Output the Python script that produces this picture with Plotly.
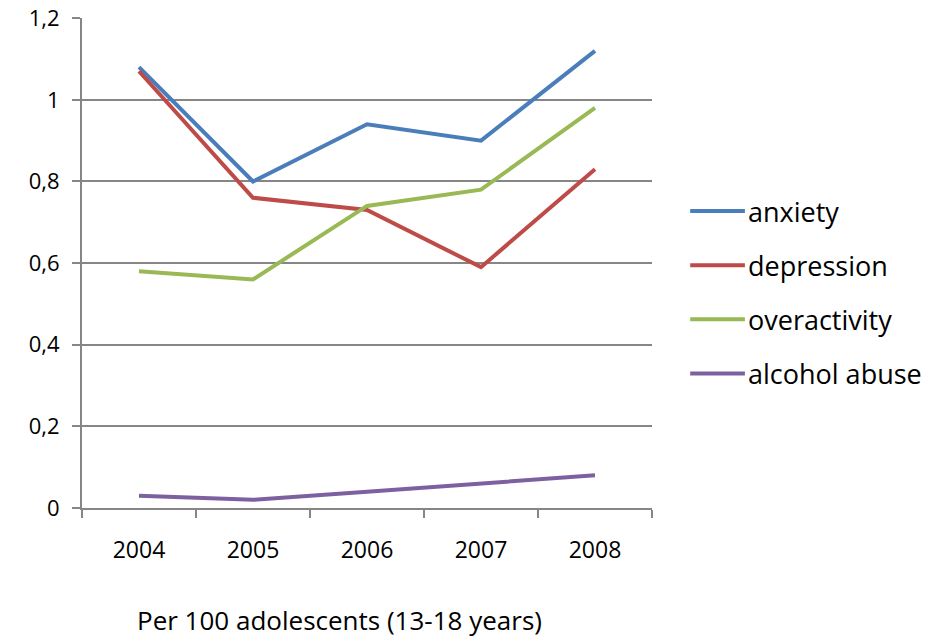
import plotly.graph_objects as go

years = ["2004", "2005", "2006", "2007", "2008"]
series_names = ["anxiety", "depression", "overactivity", "alcohol abuse"]
anxiety = [1.08, 0.80, 0.94, 0.90, 1.12]
depression = [1.07, 0.76, 0.73, 0.59, 0.83]
overactivity = [0.58, 0.56, 0.74, 0.78, 0.98]
alcohol_abuse = [0.03, 0.02, 0.04, 0.06, 0.08]
y_ticks = [0, 0.2, 0.4, 0.6, 0.8, 1.0, 1.2]
x_title = "Per 100 adolescents (13-18 years)"

colors = ["#4A7EBB", "#BE4B48", "#98B954", "#7D60A0"]
values = [anxiety, depression, overactivity, alcohol_abuse]
FONT = "Open Sans, sans-serif"
GRID = "#868686"

fig = go.Figure()
for name, vals, col in zip(series_names, values, colors):
    fig.add_trace(go.Scatter(
        x=years, y=vals, name=name, mode="lines",
        line=dict(color=col, width=4), showlegend=False,
    ))

# legend drawn as line swatches plus labels
shapes = []
annotations = []
leg_top, leg_step = 0.606, 0.1105
for i, (name, col) in enumerate(zip(series_names, colors)):
    yy = leg_top - i * leg_step
    shapes.append(dict(type="line", xref="paper", yref="paper",
                       x0=1.067, x1=1.163, y0=yy, y1=yy,
                       line=dict(color=col, width=4)))
    annotations.append(dict(xref="paper", yref="paper", x=1.165, y=yy,
                            text=name, showarrow=False, xanchor="left",
                            yanchor="middle",
                            font=dict(family=FONT, size=27, color="black")))

annotations.append(dict(xref="paper", yref="paper", x=0.4526, y=-0.2694,
                        text=x_title, showarrow=False, xanchor="center",
                        yanchor="bottom",
                        font=dict(family=FONT, size=26, color="black")))

fig.update_layout(
    width=936, height=640,
    margin=dict(l=82, r=284, t=18, b=132, autoexpand=False),
    paper_bgcolor="white", plot_bgcolor="white",
    separators=", ",
    shapes=shapes, annotations=annotations,
    font=dict(family=FONT, color="black"),
)
fig.update_xaxes(
    type="category", tickson="boundaries", ticks="outside", ticklen=8,
    tickwidth=2, tickcolor=GRID, showgrid=False, showline=True,
    linecolor=GRID, linewidth=2, tickfont=dict(size=23, family=FONT),
    ticklabelstandoff=20, range=[-0.5, 4.5], automargin=False,
)
fig.update_yaxes(
    range=[0, 1.2004], tickvals=y_ticks, tickformat=".1~f",
    ticks="outside", ticklen=8, tickwidth=2, tickcolor=GRID,
    showgrid=True, gridcolor=GRID, gridwidth=2, zeroline=False,
    showline=True, linecolor=GRID, linewidth=2,
    tickfont=dict(size=22, family=FONT), ticklabelstandoff=8,
    automargin=False,
)

fig.write_html("out.html")
